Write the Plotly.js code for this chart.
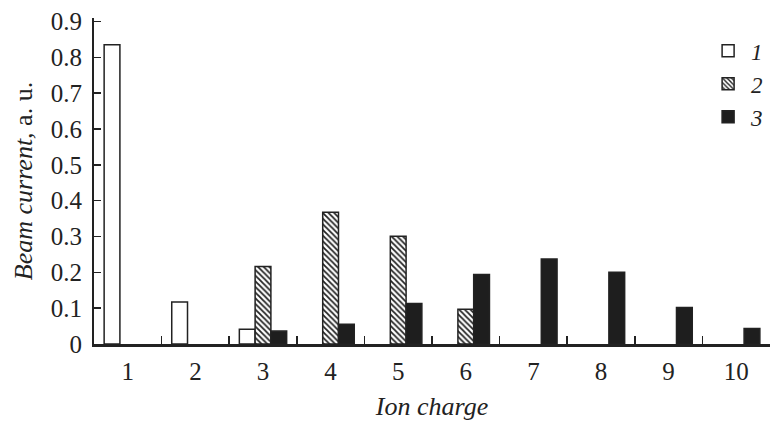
<!DOCTYPE html>
<html>
<head>
<meta charset="utf-8">
<script src="https://cdn.plot.ly/plotly-3.0.1.min.js"></script>
<style>html,body{margin:0;padding:0;background:#fff;}#chart{width:778px;height:423px;}</style>
</head>
<body>
<div id="chart"></div>
<script>
const categories = ['1','2','3','4','5','6','7','8','9','10'];
const series1 = [0.835, 0.117, 0.041, null, null, null, null, null, null, null];
const series2 = [null, null, 0.216, 0.368, 0.301, 0.097, null, null, null, null];
const series3 = [null, null, 0.036, 0.055, 0.113, 0.194, 0.237, 0.200, 0.102, 0.043];
const seriesNames = ['<i>1</i>', '<i>2</i>', '<i>3</i>'];
const yTicks = [0, 0.1, 0.2, 0.3, 0.4, 0.5, 0.6, 0.7, 0.8, 0.9];

const serif = 'Liberation Serif, Times New Roman, serif';
const line = {color: '#222', width: 1.5};

const traces = [
  {type: 'bar', x: categories, y: series1, name: seriesNames[0],
   marker: {color: '#ffffff', line: line}},
  {type: 'bar', x: categories, y: series2, name: seriesNames[1],
   marker: {color: '#ffffff', line: line,
            pattern: {shape: '\\', fgcolor: '#222', bgcolor: '#ffffff', size: 4, solidity: 0.45}}},
  {type: 'bar', x: categories, y: series3, name: seriesNames[2],
   marker: {color: '#1e1e1e', line: line}}
];

const layout = {
  width: 778, height: 423,
  margin: {l: 94, r: 8, t: 18, b: 79},
  paper_bgcolor: '#fff', plot_bgcolor: '#fff',
  barmode: 'group', bargap: 0.3, bargroupgap: 0,
  font: {family: serif, color: '#222', size: 25},
  showlegend: true,
  legend: {x: 0.904, y: 0.965, xanchor: 'left', yanchor: 'top',
           font: {family: serif, size: 23, color: '#222'},
           bgcolor: 'rgba(0,0,0,0)', itemwidth: 36, tracegroupgap: 0},
  xaxis: {
    type: 'category', categoryorder: 'array', categoryarray: categories,
    range: [-0.5, 9.5], tickson: 'boundaries',
    ticks: 'inside', ticklen: 8, tickwidth: 1.5, tickcolor: '#222',
    showline: true, linecolor: '#222', linewidth: 2.5,
    showgrid: false, zeroline: false,
    ticklabelstandoff: 3,
    tickfont: {family: serif, size: 25, color: '#222'},
    title: {text: '<i>Ion charge</i>', font: {family: serif, size: 26, color: '#222'}, standoff: 14}
  },
  yaxis: {
    range: [0, 0.91], tickvals: yTicks, ticktext: yTicks.map(v => v === 0 ? '0' : v.toFixed(1)),
    ticks: 'inside', ticklen: 7, tickwidth: 1.5, tickcolor: '#222',
    showline: true, linecolor: '#222', linewidth: 2,
    showgrid: false, zeroline: false,
    ticklabelstandoff: 5,
    tickfont: {family: serif, size: 25, color: '#222'},
    title: {text: '<i>Beam current,</i> a. u.', font: {family: serif, size: 26, color: '#222'}, standoff: 11}
  }
};

Plotly.newPlot('chart', traces, layout, {displayModeBar: false, staticPlot: true});
</script>
</body>
</html>
